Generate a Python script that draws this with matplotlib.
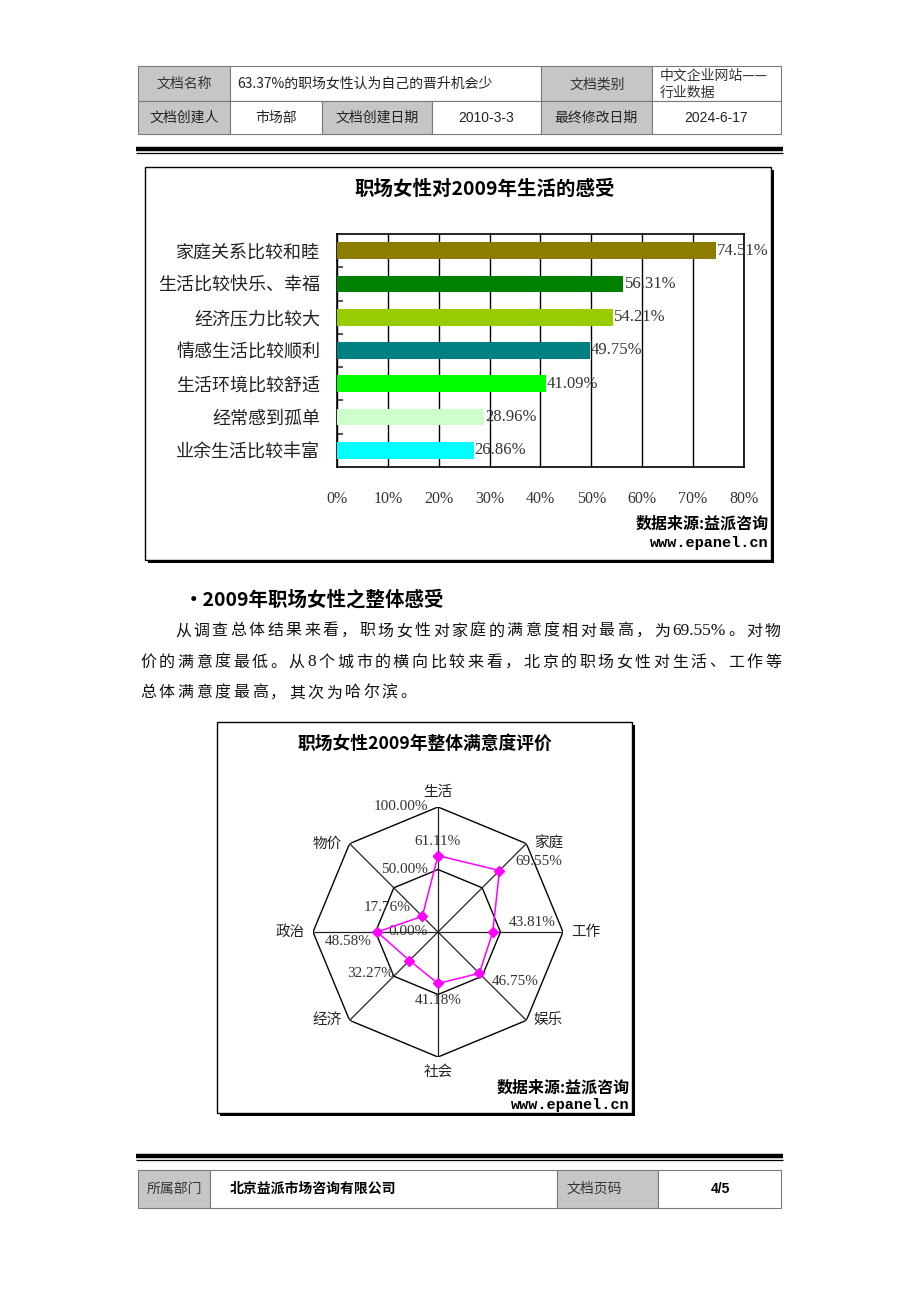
import re
import numpy as np
import matplotlib
matplotlib.use("Agg")
import matplotlib.pyplot as plt
from matplotlib.patches import Rectangle

plt.rcParams['font.family'] = ['Noto Sans CJK SC', 'DejaVu Sans']

W, H = 920, 1302

# ---- data ----
bar_cats = ['家庭关系比较和睦', '生活比较快乐、幸福', '经济压力比较大', '情感生活比较顺利',
            '生活环境比较舒适', '经常感到孤单', '业余生活比较丰富']
bar_vals = [74.51, 56.31, 54.21, 49.75, 41.09, 28.96, 26.86]
bar_colors = ['#8c7c00', '#008000', '#99cc00', '#008080', '#00ff00', '#ccffcc', '#00ffff']
bar_ticks = [0, 10, 20, 30, 40, 50, 60, 70, 80]

radar_cats = ['生活', '家庭', '工作', '娱乐', '社会', '经济', '政治', '物价']
radar_vals = [61.11, 69.55, 43.81, 46.75, 41.18, 32.27, 48.58, 17.76]
radar_rings = [50, 100]
radar_ring_labels = ['0.00%', '50.00%', '100.00%']

header_rows = [
    [('文档名称', 'g'), ('63.37%的职场女性认为自己的晋升机会少', 'w'), ('文档类别', 'g'), ('中文企业网站——\n行业数据', 'w')],
    [('文档创建人', 'g'), ('市场部', 'w'), ('文档创建日期', 'g'), ('2010-3-3', 'w'), ('最终修改日期', 'g'), ('2024-6-17', 'w')],
]
footer_row = [('所属部门', 'g'), ('北京益派市场咨询有限公司', 'w'), ('文档页码', 'g'), ('4/5', 'w')]

para_heading = '•2009年职场女性之整体感受'
para_lines = ['从调查总体结果来看，职场女性对家庭的满意度相对最高，为 69.55%。对物',
              '价的满意度最低。从 8 个城市的横向比较来看，北京的职场女性对生活、工作等',
              '总体满意度最高，其次为哈尔滨。']

source_txt = '数据来源:益派咨询'
source_url = 'www.epanel.cn'

GRAY = '#c6c6c6'
fig = plt.figure(figsize=(W / 100, H / 100), dpi=100)
bg = fig.add_axes([0, 0, 1, 1])
bg.set_xlim(0, W)
bg.set_ylim(H, 0)
bg.axis('off')


def cell(x0, y0, x1, y1, kind):
    bg.add_patch(Rectangle((x0, y0), x1 - x0, y1 - y0, facecolor=GRAY if kind == 'g' else 'white',
                           edgecolor='#7a7a7a', lw=0.8, zorder=1))


# ---- header table ----
r1x = [138, 230, 541, 652, 781]
r2x = [138, 230, 322, 432, 541, 652, 781]
for (txt, k), x0, x1 in zip(header_rows[0], r1x[:-1], r1x[1:]):
    cell(x0, 66, x1, 101, k)
for (txt, k), x0, x1 in zip(header_rows[1], r2x[:-1], r2x[1:]):
    cell(x0, 101, x1, 134, k)
bg.text(184, 84, '文档名称', ha='center', va='center', fontsize=10, color='#333333')
bg.text(237, 84, header_rows[0][1][0], ha='left', va='center', fontsize=10, color='#222222')
bg.text(597, 84, '文档类别', ha='center', va='center', fontsize=10, color='#333333')
bg.text(660, 76, '中文企业网站——', ha='left', va='center', fontsize=10, color='#333333')
bg.text(660, 93, '行业数据', ha='left', va='center', fontsize=10, color='#333333')
for (txt, k), x0, x1 in zip(header_rows[1], r2x[:-1], r2x[1:]):
    fam = ['Liberation Sans', 'Noto Sans CJK SC'] if txt[0].isdigit() else None
    bg.text((x0 + x1) / 2, 118, txt, ha='center', va='center', fontsize=10,
            color='#222222', family=fam)

bg.plot([136, 783], [148.5, 148.5], color='black', lw=3.2, solid_capstyle='butt')
bg.plot([136, 783], [153, 153], color='black', lw=0.9, solid_capstyle='butt')


def chart_box(x0, y0, x1, y1):
    bg.add_patch(Rectangle((x0 + 3, y0 + 3), x1 - x0, y1 - y0, facecolor='black', lw=0, zorder=1))
    bg.add_patch(Rectangle((x0, y0), x1 - x0, y1 - y0, facecolor='white', edgecolor='black',
                           lw=1, zorder=2))


# ---- bar chart ----
chart_box(145, 167, 771, 560)
bg.text(485, 189, '职场女性对2009年生活的感受', ha='center', va='center', fontsize=14,
        fontweight='bold', zorder=3)
bg.text(769, 523, source_txt, ha='right', va='center', fontsize=11.5, fontweight='bold', zorder=3)
bg.text(769, 543, source_url, ha='right', va='center', fontsize=11, family='Liberation Mono',
        fontweight='bold', zorder=3)

ax = fig.add_axes([337 / W, 1 - 467 / H, (744 - 337) / W, (467 - 234) / H])
ax.set_zorder(3)
ypos = np.arange(len(bar_cats))
ax.barh(ypos, bar_vals, height=0.5, color=bar_colors, zorder=3)
for y, v in zip(ypos, bar_vals):
    ax.text(v + 0.2, y, f'{v:.2f}%', ha='left', va='center', fontsize=12,
            family='Liberation Serif', color='#333333', zorder=4)
ax.set_xlim(0, 80)
ax.set_ylim(len(bar_cats) - 0.5, -0.5)
ax.set_xticks(bar_ticks)
ax.set_xticklabels([f'{t}%' for t in bar_ticks], family='Liberation Serif', fontsize=11.5, color='#333333')
ax.set_yticks(ypos)
ax.set_yticklabels(bar_cats, fontsize=13, color='#222222')
ax.set_yticks(np.arange(0.5, len(bar_cats) - 0.5, 1), minor=True)
ax.tick_params(axis='x', length=0, pad=17)
ax.tick_params(axis='y', which='major', length=0, pad=12)
ax.tick_params(axis='y', which='minor', length=4, direction='in', width=1.2, color='#333333')
ax.grid(axis='x', color='black', lw=1, zorder=1)
for s in ax.spines.values():
    s.set_color('black')
    s.set_linewidth(1.2)

# ---- paragraph ----
bg.text(184, 600, para_heading, ha='left', va='center', fontsize=14, fontweight='bold')
renderer = fig.canvas.get_renderer()


def tokens(s):
    return [t for t in re.findall(r'[A-Za-z0-9.%]+|\s+|.', s) if not t.isspace()]


def place_line(s, x0, x1, y, gap=None, fs=11.5):
    toks = tokens(s)
    objs = [bg.text(0, y, t, ha='left', va='center', fontsize=fs + (1 if t[0].isascii() else 0),
                    color='#111111',
                    family=['Liberation Serif', 'Noto Sans CJK SC'] if t[0].isascii() else None)
            for t in toks]
    widths = [o.get_window_extent(renderer).width for o in objs]
    if gap is None:
        gap = (x1 - x0 - sum(widths)) / (len(toks) - 1)
    x = x0
    for o, w in zip(objs, widths):
        o.set_x(x)
        x += w + gap
    return gap


place_line(para_lines[0], 175, 781, 631)
g = place_line(para_lines[1], 140, 781, 662)
place_line(para_lines[2], 140, 781, 693, gap=g)

# ---- radar chart ----
chart_box(217, 722, 632, 1113)
bg.text(425, 744, '职场女性2009年整体满意度评价', ha='center', va='center', fontsize=12.8,
        fontweight='bold', zorder=3)
bg.text(630, 1087, source_txt, ha='right', va='center', fontsize=11.5, fontweight='bold', zorder=3)
bg.text(630, 1105, source_url, ha='right', va='center', fontsize=11, family='Liberation Mono',
        fontweight='bold', zorder=3)

cx, cy, R = 438, 932, 125
rax = fig.add_axes([(cx - R) / W, 1 - (cy + R) / H, 2 * R / W, 2 * R / H], projection='polar')
rax.set_zorder(3)
rax.set_theta_zero_location('N')
rax.set_theta_direction(-1)
rax.set_ylim(0, 100)
rax.axis('off')
th = np.linspace(0, 2 * np.pi, len(radar_cats), endpoint=False)
thc = np.append(th, th[0])
for r in radar_rings:
    rax.plot(thc, [r] * len(thc), color='black', lw=1, zorder=2)
for t in th:
    rax.plot([t, t], [0, 100], color='#222222', lw=0.9, zorder=2)
rax.plot(thc, np.append(radar_vals, radar_vals[0]), color='#ff00ff', lw=1.1, marker='D',
         markersize=5.5, zorder=4, clip_on=False)

px = 0.72  # points per pixel
cat_off = [(0, 15), (22, 0), (23, 0), (22, 0), (0, -15), (-22, 0), (-23, 0), (-22, 0)]
for t, lab, (dx, dy) in zip(th, radar_cats, cat_off):
    rax.annotate(lab, (t, 100), xytext=(dx * px, dy * px), textcoords='offset points',
                 ha='center', va='center', fontsize=10.5, color='#222222', annotation_clip=False)
val_off = [(0, 14), (39, 9), (39, 9), (36, -8.5), (0, -17), (-39, -13), (-29, -10), (-35, 9)]
for t, v, (dx, dy) in zip(th, radar_vals, val_off):
    rax.annotate(f'{v:.2f}%', (t, v), xytext=(dx * px, dy * px), textcoords='offset points',
                 ha='center', va='center', fontsize=11, family='Liberation Serif',
                 color='#333333', annotation_clip=False)
for r, lab in zip([0] + radar_rings, radar_ring_labels):
    rax.annotate(lab, (0, r), xytext=(-10 * px, 0), textcoords='offset points',
                 ha='right', va='center', fontsize=11, family='Liberation Serif',
                 color='#333333', annotation_clip=False)

# ---- footer ----
bg.plot([136, 783], [1155.5, 1155.5], color='black', lw=3.2, solid_capstyle='butt')
bg.plot([136, 783], [1160, 1160], color='black', lw=0.9, solid_capstyle='butt')
fx = [138, 210, 557, 658, 781]
for (txt, k), x0, x1 in zip(footer_row, fx[:-1], fx[1:]):
    cell(x0, 1170, x1, 1208, k)
bg.text(174, 1189, '所属部门', ha='center', va='center', fontsize=10, color='#333333')
bg.text(230, 1189, footer_row[1][0], ha='left', va='center', fontsize=10, fontweight='bold')
bg.text(567, 1189, '文档页码', ha='left', va='center', fontsize=10, color='#333333')
bg.text(720, 1189, '4/5', ha='center', va='center', fontsize=10, fontweight='bold',
        family='Liberation Sans')

fig.savefig('out.png', dpi=100)
